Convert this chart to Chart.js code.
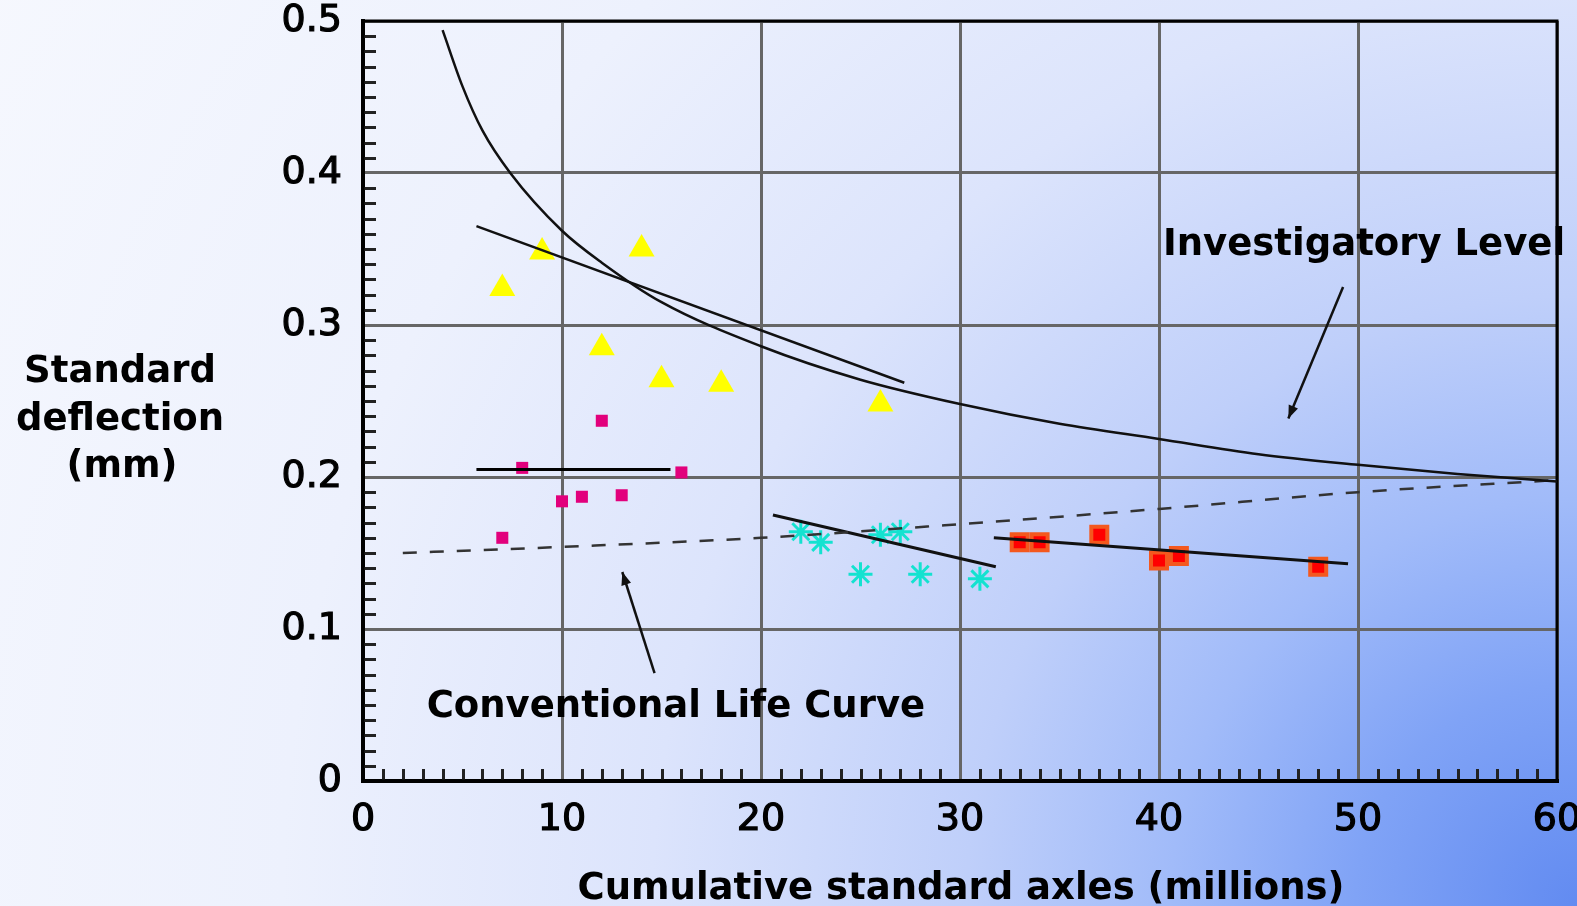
<!DOCTYPE html>
<html>
<head>
<meta charset="utf-8">
<script src="https://cdn.jsdelivr.net/npm/chart.js@4.4.1/dist/chart.umd.min.js"></script>
<style>
  html, body { margin: 0; padding: 0; }
  body {
    width: 1577px; height: 906px; overflow: hidden;
    background: radial-gradient(circle 1850px at 100% 100%,
      #628bf1 0%, #80a3f6 12%, #a1bbf9 22%, #bfcffa 33%, #dce4fc 50%, #edf1fd 70%, #f6f8fe 100%);
  }
  canvas { display: block; }
</style>
</head>
<body>
<canvas id="chart" width="1577" height="906"></canvas>
<script>
// measured points
const triangleX = [7, 9, 12, 14, 15, 18, 26];
const triangleY = [0.324, 0.348, 0.285, 0.350, 0.264, 0.261, 0.248];
const magentaX = [7, 8, 10, 11, 12, 13, 16];
const magentaY = [0.160, 0.206, 0.184, 0.187, 0.237, 0.188, 0.203];
const cyanX = [22, 23, 25, 26, 27, 28, 31];
const cyanY = [0.164, 0.157, 0.136, 0.162, 0.164, 0.136, 0.133];
const redX = [33, 34, 37, 40, 41, 48];
const redY = [0.157, 0.157, 0.162, 0.145, 0.148, 0.141];

// curves
const investigatoryX = [4, 5, 6, 7.4, 10, 12, 15, 20, 25, 30, 35, 40, 45, 50, 55, 60];
const investigatoryY = [0.494, 0.457, 0.428, 0.400, 0.362, 0.341, 0.315, 0.286, 0.264, 0.248, 0.235, 0.225, 0.215, 0.208, 0.202, 0.197];
const conventionalX = [2, 10, 20, 30, 40, 50, 60];
const conventionalY = [0.150, 0.154, 0.160, 0.169, 0.179, 0.190, 0.198];

// trend lines
const triangleFitX = [5.7, 27.2];
const triangleFitY = [0.365, 0.262];
const magentaFitX = [5.7, 15.45];
const magentaFitY = [0.205, 0.205];
const cyanFitX = [20.6, 31.8];
const cyanFitY = [0.175, 0.141];
const redFitX = [31.7, 49.5];
const redFitY = [0.160, 0.143];

// arrows (tail, head)
const investArrowX = [49.25, 46.5];
const investArrowY = [0.325, 0.2385];
const convArrowX = [14.65, 13.03];
const convArrowY = [0.071, 0.1375];

const xMin = 0, xMax = 60, xStep = 10;
const yMin = 0, yMax = 0.5, yStep = 0.1;

const yTitle = ["Standard", "deflection", "(mm)"];
const xTitle = "Cumulative standard axles (millions)";
const investLabel = "Investigatory Level";
const convLabel = "Conventional Life Curve";

const pts = (xs, ys) => xs.map((x, i) => ({ x: x, y: ys[i] }));

function lineSet(xs, ys, extra) {
  return Object.assign({
    type: "line",
    data: pts(xs, ys),
    borderColor: "#111",
    borderWidth: 3,
    pointRadius: 0,
    fill: false,
    order: 0,
  }, extra || {});
}

const decorations = {
  id: "decorations",
  beforeDatasetsDraw(chart) {
    const { ctx, chartArea: a, scales: { x, y } } = chart;
    ctx.save();
    ctx.strokeStyle = "#222";
    ctx.lineWidth = 3;
    ctx.beginPath();
    for (let i = 1; i < 50; i++) {
      if (i % 10 === 0) continue;
      const py = Math.round(y.getPixelForValue(i / 100)) + 0.5;
      ctx.moveTo(a.left, py);
      ctx.lineTo(a.left + 13, py);
    }
    for (let i = 1; i < 60; i++) {
      if (i % 10 === 0) continue;
      const px = Math.round(x.getPixelForValue(i)) + 0.5;
      ctx.moveTo(px, a.bottom);
      ctx.lineTo(px, a.bottom - 12);
    }
    ctx.stroke();
    ctx.strokeStyle = "#000";
    ctx.lineWidth = 3;
    ctx.strokeRect(a.left, a.top, a.right - a.left, a.bottom - a.top);
    ctx.restore();
  },
  afterDatasetsDraw(chart) {
    const { ctx, scales: { x, y } } = chart;
    ctx.save();
    ctx.fillStyle = "#111";
    [[investArrowX, investArrowY], [convArrowX, convArrowY]].forEach(([ax, ay]) => {
      const x0 = x.getPixelForValue(ax[0]), y0 = y.getPixelForValue(ay[0]);
      const x1 = x.getPixelForValue(ax[1]), y1 = y.getPixelForValue(ay[1]);
      const ang = Math.atan2(y1 - y0, x1 - x0);
      ctx.beginPath();
      ctx.moveTo(x1, y1);
      ctx.lineTo(x1 - 13 * Math.cos(ang) + 5 * Math.sin(ang), y1 - 13 * Math.sin(ang) - 5 * Math.cos(ang));
      ctx.lineTo(x1 - 13 * Math.cos(ang) - 5 * Math.sin(ang), y1 - 13 * Math.sin(ang) + 5 * Math.cos(ang));
      ctx.closePath();
      ctx.fill();
    });
    ctx.restore();
  },
  afterDraw(chart) {
    const { ctx, scales: { x, y } } = chart;
    ctx.save();
    ctx.fillStyle = "#000";
    ctx.font = 'bold 37px "DejaVu Sans"';
    ctx.textBaseline = "alphabetic";
    ctx.textAlign = "center";
    ctx.fillText(yTitle[0], 120, 382);
    ctx.fillText(yTitle[1], 120, 430);
    ctx.fillText(yTitle[2], 122, 477);
    ctx.fillText(xTitle, 961, 899);
    ctx.textAlign = "left";
    ctx.fillText(investLabel, x.getPixelForValue(40.2), y.getPixelForValue(0.346));
    ctx.fillText(convLabel, x.getPixelForValue(3.2), y.getPixelForValue(0.0422));
    ctx.restore();
  },
};

const tickFont = { family: "DejaVu Sans", size: 38, lineHeight: 1 };

new Chart(document.getElementById("chart"), {
  type: "scatter",
  data: {
    datasets: [
      lineSet(investigatoryX, investigatoryY, { cubicInterpolationMode: "monotone", borderWidth: 2.5 }),
      lineSet(conventionalX, conventionalY, { cubicInterpolationMode: "monotone", borderDash: [14, 13], borderColor: "#333", borderWidth: 2.5 }),
      lineSet(triangleFitX, triangleFitY, { borderWidth: 2.5 }),
      lineSet(magentaFitX, magentaFitY, { borderColor: "#000" }),
      lineSet(cyanFitX, cyanFitY),
      lineSet(redFitX, redFitY),
      lineSet(investArrowX, investArrowY, { borderWidth: 2.5 }),
      lineSet(convArrowX, convArrowY, { borderWidth: 2.5 }),
      {
        data: pts(triangleX, triangleY),
        pointStyle: "triangle",
        pointRadius: 15,
        backgroundColor: "#ffff00",
        borderColor: "#ffff00",
        borderWidth: 0,
        order: 1,
      },
      {
        data: pts(magentaX, magentaY),
        pointStyle: "rect",
        pointRadius: 8.5,
        backgroundColor: "#e2007c",
        borderColor: "#e2007c",
        borderWidth: 0,
        order: 1,
      },
      {
        data: pts(cyanX, cyanY),
        pointStyle: "star",
        pointRadius: 12,
        backgroundColor: "#14e2d0",
        borderColor: "#14e2d0",
        borderWidth: 3,
        order: 1,
      },
      {
        data: pts(redX, redY),
        pointStyle: "rect",
        pointRadius: 11.3,
        backgroundColor: "#ff0000",
        borderColor: "#f4581e",
        borderWidth: 4,
        order: 1,
      },
    ],
  },
  options: {
    responsive: false,
    animation: false,
    events: [],
    layout: { padding: { top: 21, right: 20, left: 0, bottom: 0 } },
    plugins: {
      legend: { display: false },
      tooltip: { enabled: false },
    },
    scales: {
      x: {
        type: "linear",
        min: xMin,
        max: xMax,
        afterFit: (s) => { s.height = 125; s.paddingLeft = 0; s.paddingRight = 0; },
        ticks: {
          stepSize: xStep,
          padding: 20,
          color: "#000",
          font: tickFont,
          textStrokeColor: "#000",
          textStrokeWidth: 1.2,
          maxRotation: 0,
        },
        grid: { color: "#666", lineWidth: 3, drawTicks: false },
        border: { color: "#000", width: 4 },
      },
      y: {
        type: "linear",
        min: yMin,
        max: yMax,
        afterFit: (s) => { s.width = 363; s.paddingTop = 0; s.paddingBottom = 0; },
        ticks: {
          stepSize: yStep,
          padding: 21,
          color: "#000",
          font: tickFont,
          textStrokeColor: "#000",
          textStrokeWidth: 1.2,
          callback: (v) => String(Number(v.toFixed(1))),
        },
        grid: { color: "#666", lineWidth: 3, drawTicks: false },
        border: { color: "#000", width: 4 },
      },
    },
  },
  plugins: [decorations],
});
</script>
</body>
</html>
